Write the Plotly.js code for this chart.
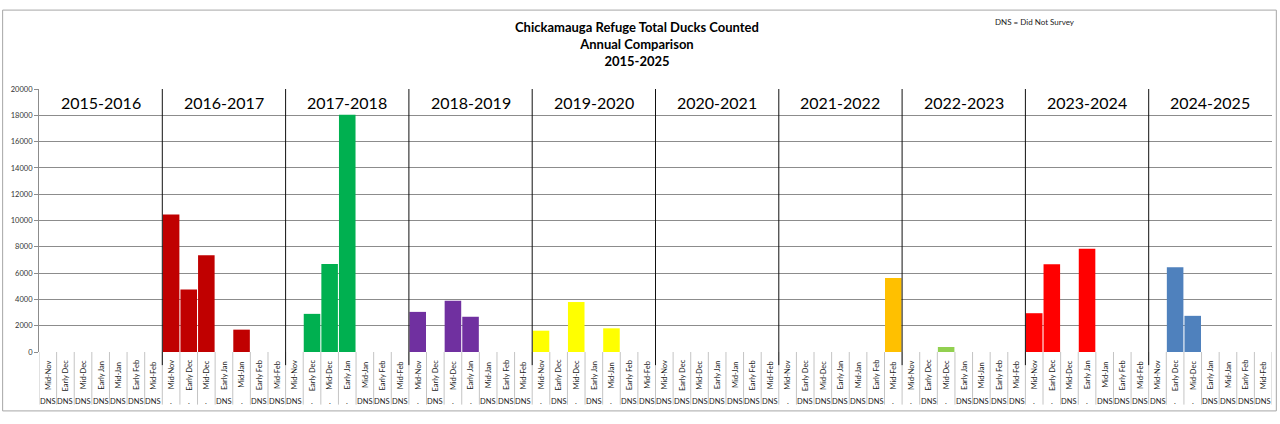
<!DOCTYPE html>
<html>
<head>
<meta charset="utf-8">
<script src="https://cdn.plot.ly/plotly-3.0.1.min.js"></script>
<style>
  html, body { margin: 0; padding: 0; background: #fff; }
  #chart { width: 1280px; height: 424px; }
</style>
</head>
<body>
<div id="chart"></div>
<script>
// Saisons et périodes de comptage
const seasons = ['2015-2016', '2016-2017', '2017-2018', '2018-2019', '2019-2020',
                 '2020-2021', '2021-2022', '2022-2023', '2023-2024', '2024-2025'];
const periods = ['Mid-Nov', 'Early Dec', 'Mid-Dec', 'Early Jan', 'Mid-Jan', 'Early Feb', 'Mid-Feb'];

// Nombre de canards comptés (null = pas de barre)
const counts = [
  [null, null, null, null, null, null, null],
  [10450, 4750, 7350, null, 1700, null, null],
  [null, 2900, 6700, 18050, null, null, null],
  [3050, null, 3900, 2680, null, null, null],
  [1620, null, 3800, null, 1800, null, null],
  [null, null, null, null, null, null, null],
  [null, null, null, null, null, null, 5620],
  [null, null, 380, null, null, null, null],
  [2950, 6680, null, 7850, null, null, null],
  [null, 6450, 2750, null, null, null, null]
];

const seasonColors = ['#C00000', '#C00000', '#00B050', '#7030A0', '#FFFF00',
                      '#4F81BD', '#FFC000', '#92D050', '#FF0000', '#4F81BD'];

// Ligne du tableau sous l'axe : DNS = Did Not Survey
const surveyRow = [
  ['DNS', 'DNS', 'DNS', 'DNS', 'DNS', 'DNS', 'DNS'],
  ['.', '.', '.', 'DNS', '.', 'DNS', 'DNS'],
  ['DNS', '.', '.', '.', 'DNS', 'DNS', 'DNS'],
  ['.', 'DNS', '.', '.', 'DNS', 'DNS', 'DNS'],
  ['.', 'DNS', '.', 'DNS', '.', 'DNS', 'DNS'],
  ['DNS', 'DNS', 'DNS', 'DNS', 'DNS', 'DNS', 'DNS'],
  ['.', 'DNS', 'DNS', 'DNS', 'DNS', 'DNS', '.'],
  ['.', 'DNS', '.', 'DNS', 'DNS', 'DNS', 'DNS'],
  ['.', '.', 'DNS', '.', 'DNS', 'DNS', 'DNS'],
  ['DNS', '.', '.', 'DNS', 'DNS', 'DNS', 'DNS']
];

const font = 'Lato, "Open Sans", sans-serif';
const nP = periods.length;
const nTot = seasons.length * nP;

let data = seasons.map((s, si) => ({
  type: 'bar',
  name: s,
  x: periods.map((p, pi) => si * nP + pi),
  y: counts[si],
  marker: { color: seasonColors[si], line: { width: 0 } },
  hovertemplate: s + ' %{customdata}: %{y}<extra></extra>',
  customdata: periods,
  showlegend: false
}));

let annotations = [];
let shapes = [];

// titre
annotations.push({
  xref: 'paper', yref: 'paper', x: 0.485, y: 1.275, xanchor: 'center', yanchor: 'top',
  text: '<b>Chickamauga Refuge Total Ducks Counted<br>Annual Comparison<br>2015-2025</b>',
  showarrow: false, font: { family: font, size: 13, color: '#000' }
});
annotations.push({
  xref: 'paper', yref: 'paper', x: 0.808, y: 1.256, xanchor: 'center', yanchor: 'middle',
  text: 'DNS = Did Not Survey', showarrow: false,
  font: { family: font, size: 8, color: '#222' }
});

seasons.forEach((s, si) => {
  // nom de la saison
  annotations.push({
    x: si * nP + (nP - 1) / 2, y: 18950, xref: 'x', yref: 'y',
    xanchor: 'center', yanchor: 'middle',
    text: s, showarrow: false, font: { family: font, size: 16, color: '#000' }
  });
  periods.forEach((p, pi) => {
    let xi = si * nP + pi;
    annotations.push({
      x: xi, y: -0.088, xref: 'x', yref: 'paper', text: p, textangle: -90,
      xanchor: 'center', yanchor: 'middle',
      showarrow: false, font: { family: font, size: 7.5, color: '#222' }
    });
    annotations.push({
      x: xi, y: -0.19, xref: 'x', yref: 'paper', text: surveyRow[si][pi],
      xanchor: 'center', yanchor: 'middle',
      showarrow: false, font: { family: font, size: 7.5, color: '#222' }
    });
  });
  // séparateurs de saison
  if (si > 0) {
    shapes.push({
      type: 'line', xref: 'x', yref: 'paper', x0: si * nP - 0.5, x1: si * nP - 0.5,
      y0: -0.05, y1: 1, line: { color: '#111', width: 1 }
    });
  }
});

// cellules du tableau
for (let i = 0; i <= nTot; i++) {
  shapes.push({
    type: 'line', xref: 'x', yref: 'paper', x0: i - 0.5, x1: i - 0.5,
    y0: -0.2, y1: 0, line: { color: '#c4c4c4', width: 1 }, layer: 'below'
  });
}

// cadre extérieur
shapes.push({
  type: 'rect', xref: 'paper', yref: 'paper', x0: -0.0295, x1: 1.0035, y0: -0.224, y1: 1.3,
  line: { color: '#a6a6a6', width: 1 }
});

let layout = {
  width: 1280, height: 424,
  margin: { l: 39, r: 8, t: 89, b: 72, pad: 0 },
  paper_bgcolor: '#fff', plot_bgcolor: '#fff',
  barmode: 'overlay', bargap: 0.06,
  showlegend: false,
  xaxis: {
    range: [-0.5, nTot - 0.5], showticklabels: false, showgrid: false,
    zeroline: false, showline: false, fixedrange: true
  },
  yaxis: {
    range: [0, 20000], dtick: 2000, tick0: 0, tickformat: 'd',
    showgrid: true, gridcolor: '#8c8c8c', gridwidth: 1,
    zeroline: false, showline: true, linecolor: '#8c8c8c', linewidth: 1,
    ticks: 'outside', ticklen: 4, tickcolor: '#8c8c8c',
    tickfont: { family: font, size: 7.5, color: '#333' }
  },
  annotations: annotations,
  shapes: shapes
};

Plotly.newPlot('chart', data, layout, { displayModeBar: false, staticPlot: true });
</script>
</body>
</html>
